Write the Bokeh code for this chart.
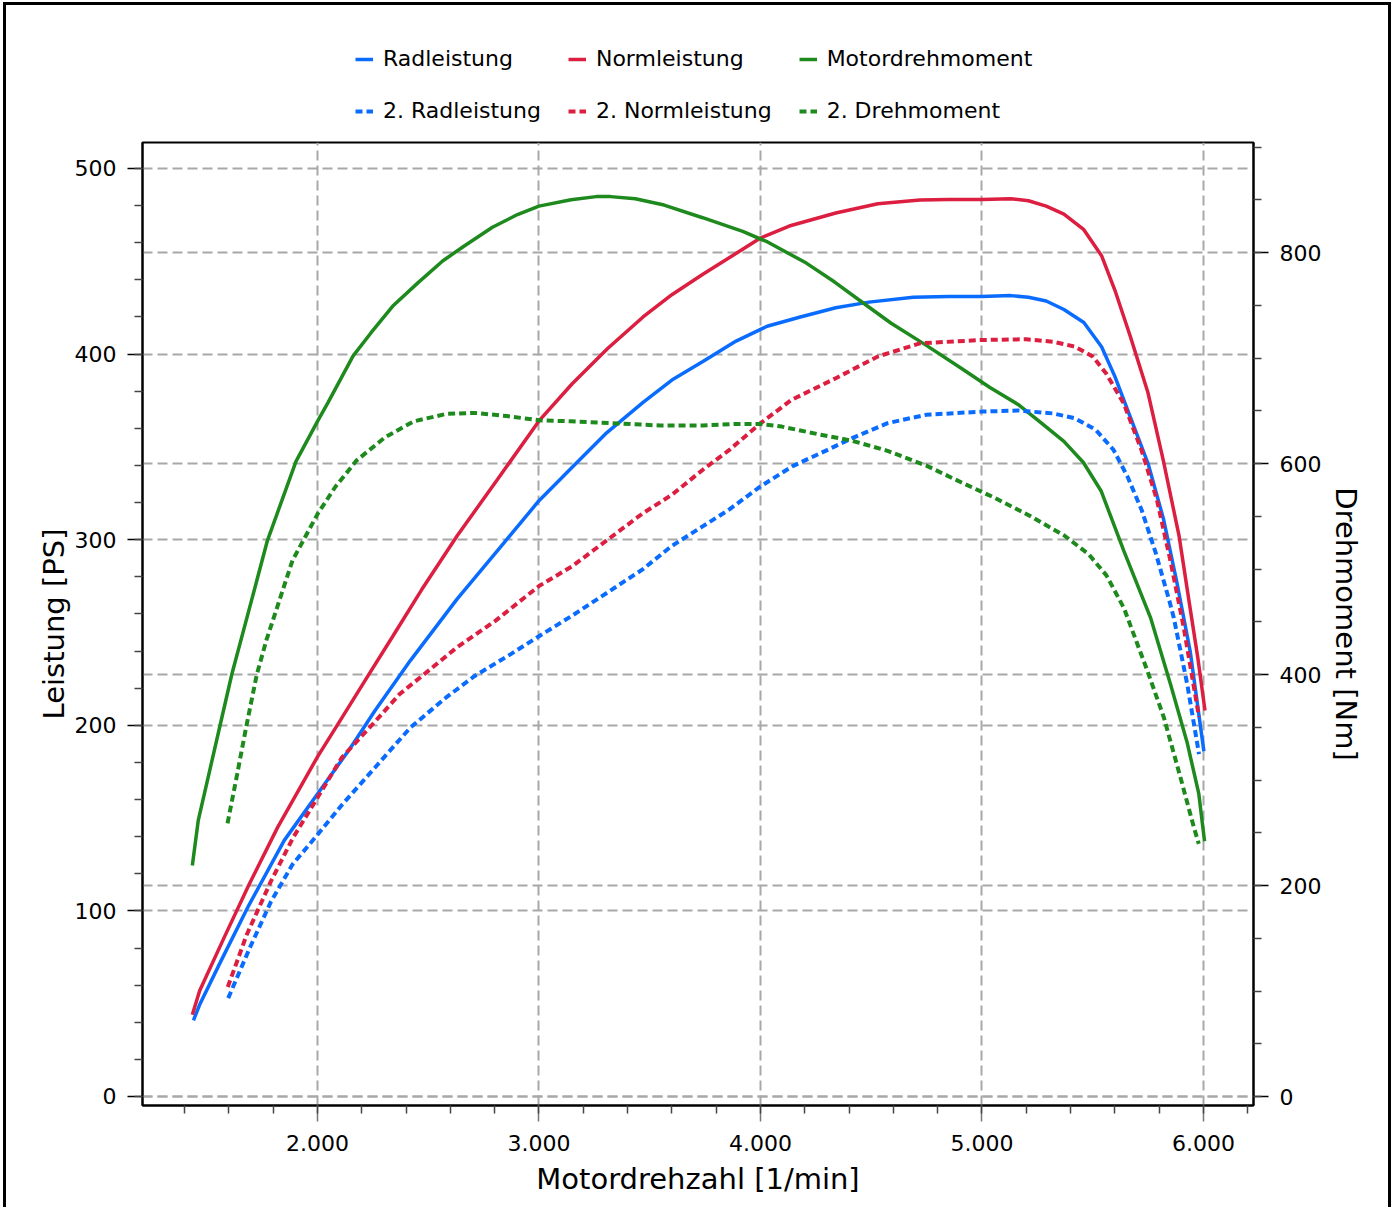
from bokeh.plotting import figure
from bokeh.layouts import column
from bokeh.models import (Range1d, LinearAxis, SingleIntervalTicker, Grid, Legend,
                          LegendItem, CustomJSTickFormatter)
from bokeh.embed import file_html
from bokeh.resources import INLINE

# ---------------- data ----------------
rad_rpm = [1440, 1470, 1560, 1690, 1850, 2000, 2150, 2260, 2420, 2630, 2840, 3000, 3150,
           3300, 3470, 3600, 3740, 3890, 4030, 4180, 4340, 4490, 4690, 4850, 5000, 5130,
           5210, 5290, 5370, 5460, 5540, 5600, 5670, 5750, 5820, 5880, 5940, 6002]
rad_ps = [41, 50, 72, 103, 138, 163, 188, 208, 235, 268, 298, 321, 339,
          357, 374, 386, 396, 407, 415, 420, 425, 428, 430.6, 431, 431, 431.5,
          430.6, 428.6, 424, 417, 404, 388, 366, 341, 311, 277, 240, 186]

norm_rpm = [1435, 1468, 1580, 1690, 1820, 2000, 2110, 2230, 2340, 2470, 2630, 2810, 3000,
            3150, 3310, 3470, 3600, 3740, 3900, 4000, 4130, 4340, 4530, 4720, 4850, 5000,
            5130, 5210, 5290, 5370, 5460, 5540, 5600, 5670, 5750, 5820, 5890, 5940, 5975, 6007]
norm_ps = [44, 57, 86, 114, 145, 183, 204, 227, 248, 273, 302, 332, 364,
           384, 403, 420, 432, 443, 455, 462.5, 469, 476, 481, 483, 483.3, 483.3,
           483.7, 482.6, 479.7, 475.4, 467, 453, 434.5, 409.5, 379, 342, 302, 263, 236, 208]

torque_rpm = [1435, 1462, 1613, 1702, 1774, 1903, 2000, 2048, 2161, 2242, 2339, 2452, 2565,
              2661, 2790, 2903, 3000, 3145, 3258, 3323, 3435, 3565, 3739, 3920, 4032, 4207,
              4335, 4478, 4590, 4749, 4908, 5036, 5163, 5259, 5370, 5458, 5538, 5641, 5761,
              5851, 5927, 5979, 6005]
torque_nm = [219, 262, 400, 470, 527, 602, 640, 658, 702, 724, 749, 771, 792,
             806, 824, 836, 844, 850, 853, 853, 851, 845, 833, 820, 810, 790,
             772, 750, 733, 712, 690, 672, 656, 640, 621, 601, 574, 517, 454,
             391, 335, 287, 242]

rad2_rpm = [1597, 1694, 1790, 1887, 2000, 2113, 2258, 2419, 2581, 2710, 2871, 3000, 3145,
            3306, 3468, 3597, 3739, 3857, 4000, 4143, 4303, 4414, 4574, 4749, 5000, 5163,
            5323, 5418, 5514, 5594, 5657, 5721, 5785, 5849, 5866, 5927, 5980]
rad2_ps = [53, 80, 105, 125, 141, 157.5, 177, 198.7, 215, 226.6, 238.2, 248, 258.7,
           271.3, 284, 296.4, 307.2, 316.1, 328.7, 339.5, 348.4, 354.7, 362.8, 367.3, 369, 369.6,
           368, 365.5, 359.2, 348.4, 334, 316, 292.7, 265.8, 258, 222, 184.5]

norm2_rpm = [1595, 1680, 1790, 1890, 2000, 2110, 2260, 2370, 2500, 2630, 2800, 3000, 3150,
             3310, 3470, 3600, 3740, 3860, 4000, 4140, 4340, 4530, 4720, 5000, 5200, 5320,
             5420, 5500, 5560, 5640, 5720, 5790, 5850, 5910, 5980]
norm2_ps = [59, 87, 116, 139.5, 161, 182.6, 202, 216.7, 229.3, 242, 256, 275, 285.7,
            300, 314.3, 324.2, 337.7, 348.4, 362.7, 375.3, 387, 398.7, 405.8, 407.6, 408, 406.7,
            404, 398.7, 389.7, 373.5, 348.4, 321.5, 289.2, 253.4, 204.5]

torque2_rpm = [1594, 1637, 1677, 1726, 1770, 1887, 2000, 2081, 2177, 2306, 2435, 2581, 2710,
               2855, 3000, 3145, 3355, 3548, 3739, 3888, 4000, 4096, 4255, 4414, 4574, 4749,
               4908, 5052, 5211, 5370, 5482, 5562, 5641, 5746, 5821, 5896, 5957, 5979]
torque2_nm = [259, 305, 349, 400, 433, 508, 552, 578, 603, 625, 640, 647, 648,
              645, 641, 640, 638, 636, 636, 637.5, 637.5, 635, 628, 621.6, 612, 598,
              582, 568, 551, 532, 514, 494, 463, 404, 359.5, 302.6, 255, 239.5]

series_labels = ["Radleistung", "Normleistung", "Motordrehmoment",
                 "2. Radleistung", "2. Normleistung", "2. Drehmoment"]
x_label = "Motordrehzahl [1/min]"
y_left_label = "Leistung [PS]"
y_right_label = "Drehmoment [Nm]"

# ---------------- styling ----------------
FONT = "DejaVu Sans"
BLUE = "#0a6cff"
RED = "#dc1e40"
GREEN = "#1e8a1e"
GRID = "#a8a8a8"
SOLID_W = 3.5
DASH_W = 4
DASH = "7 4"

# ---------------- main chart ----------------
p = figure(frame_width=1111, frame_height=963,
           x_range=Range1d(1210, 6226), y_range=Range1d(-4.85, 514),
           output_backend="svg", toolbar_location=None,
           min_border_left=136, min_border_right=135,
           min_border_top=7, min_border_bottom=102)
p.extra_y_ranges = {"nm": Range1d(-8.53, 904.3)}

p.outline_line_color = "black"
p.outline_line_width = 2
p.background_fill_color = "white"
p.border_fill_color = "white"

fmt = CustomJSTickFormatter(code=r"return tick.toFixed(0).replace(/\B(?=(\d{3})+(?!\d))/g, '.');")

xax = p.xaxis[0]
xax.ticker = SingleIntervalTicker(interval=1000, num_minor_ticks=5)
xax.formatter = fmt
xax.axis_label = x_label

yax = p.yaxis[0]
yax.ticker = SingleIntervalTicker(interval=100, num_minor_ticks=5)
yax.axis_label = y_left_label

rax = LinearAxis(y_range_name="nm",
                 ticker=SingleIntervalTicker(interval=200, num_minor_ticks=4),
                 axis_label=y_right_label)
p.add_layout(rax, "right")

for ax in (xax, yax, rax):
    ax.axis_line_color = "black"
    ax.axis_line_width = 2
    ax.major_tick_out = 15
    ax.major_tick_in = 0
    ax.minor_tick_out = 8
    ax.minor_tick_in = 0
    ax.major_tick_line_color = "black"
    ax.major_tick_line_width = 1.5
    ax.minor_tick_line_color = "#444444"
    ax.minor_tick_line_width = 1.5
    ax.major_label_text_font = FONT
    ax.major_label_text_font_size = "22px"
    ax.major_label_text_color = "black"
    ax.major_label_standoff = 11
    ax.axis_label_text_font = FONT
    ax.axis_label_text_font_size = "29px"
    ax.axis_label_text_font_style = "normal"
    ax.axis_label_text_color = "black"
    ax.axis_label_standoff = 1
xax.major_tick_out = 16
xax.major_tick_line_color = "#777777"
xax.major_label_standoff = 13
xax.axis_label_standoff = 8
rax.axis_label_standoff = 5

for g in (p.xgrid[0], p.ygrid[0]):
    g.grid_line_color = GRID
    g.grid_line_width = 2
    g.grid_line_dash = "10 5"
rgrid = Grid(dimension=1, ticker=rax.ticker, y_range_name="nm",
             grid_line_color=GRID, grid_line_width=2, grid_line_dash="10 5")
p.add_layout(rgrid)

p.line(rad_rpm, rad_ps, line_color=BLUE, line_width=SOLID_W)
p.line(norm_rpm, norm_ps, line_color=RED, line_width=SOLID_W)
p.line(torque_rpm, torque_nm, line_color=GREEN, line_width=SOLID_W, y_range_name="nm")
p.line(rad2_rpm, rad2_ps, line_color=BLUE, line_width=DASH_W, line_dash=DASH)
p.line(norm2_rpm, norm2_ps, line_color=RED, line_width=DASH_W, line_dash=DASH)
p.line(torque2_rpm, torque2_nm, line_color=GREEN, line_width=DASH_W, line_dash=DASH,
       y_range_name="nm")

# ---------------- legend strip above the chart ----------------
lf = figure(width=1382, height=130, output_backend="svg", toolbar_location=None,
            x_range=Range1d(0, 1), y_range=Range1d(0, 1),
            x_axis_location=None, y_axis_location=None, min_border=0)
lf.grid.visible = False
lf.outline_line_color = None
lf.border_fill_color = "white"
lf.background_fill_color = "white"

styles = [(BLUE, SOLID_W, "solid"), (RED, SOLID_W, "solid"), (GREEN, SOLID_W, "solid"),
          (BLUE, DASH_W, DASH), (RED, DASH_W, DASH), (GREEN, DASH_W, DASH)]
items = []
for lab, (c, w, d) in zip(series_labels, styles):
    # legend swatch source: a stub line kept outside the visible range
    r = lf.line([-5, -4], [-5, -5], line_color=c, line_width=w, line_dash=d)
    items.append(LegendItem(label=lab, renderers=[r]))

legend = Legend(items=items, orientation="horizontal", ncols=3, location=(203, 2))
legend.label_text_font = FONT
legend.label_text_font_size = "22px"
legend.label_text_color = "black"
legend.label_height = 25
legend.glyph_width = 18
legend.glyph_height = 20
legend.label_standoff = 10
legend.spacing = 27
legend.padding = 10
legend.margin = 0
legend.border_line_alpha = 0
legend.background_fill_alpha = 0
lf.add_layout(legend, "center")

layout = column(lf, p, spacing=0)
layout.styles = {"margin": "2px 0 0 3px", "border-left": "3px solid #000",
                 "border-top": "3px solid #000", "border-right": "3px solid #000"}

open("out.html", "w").write(file_html(layout, INLINE))
